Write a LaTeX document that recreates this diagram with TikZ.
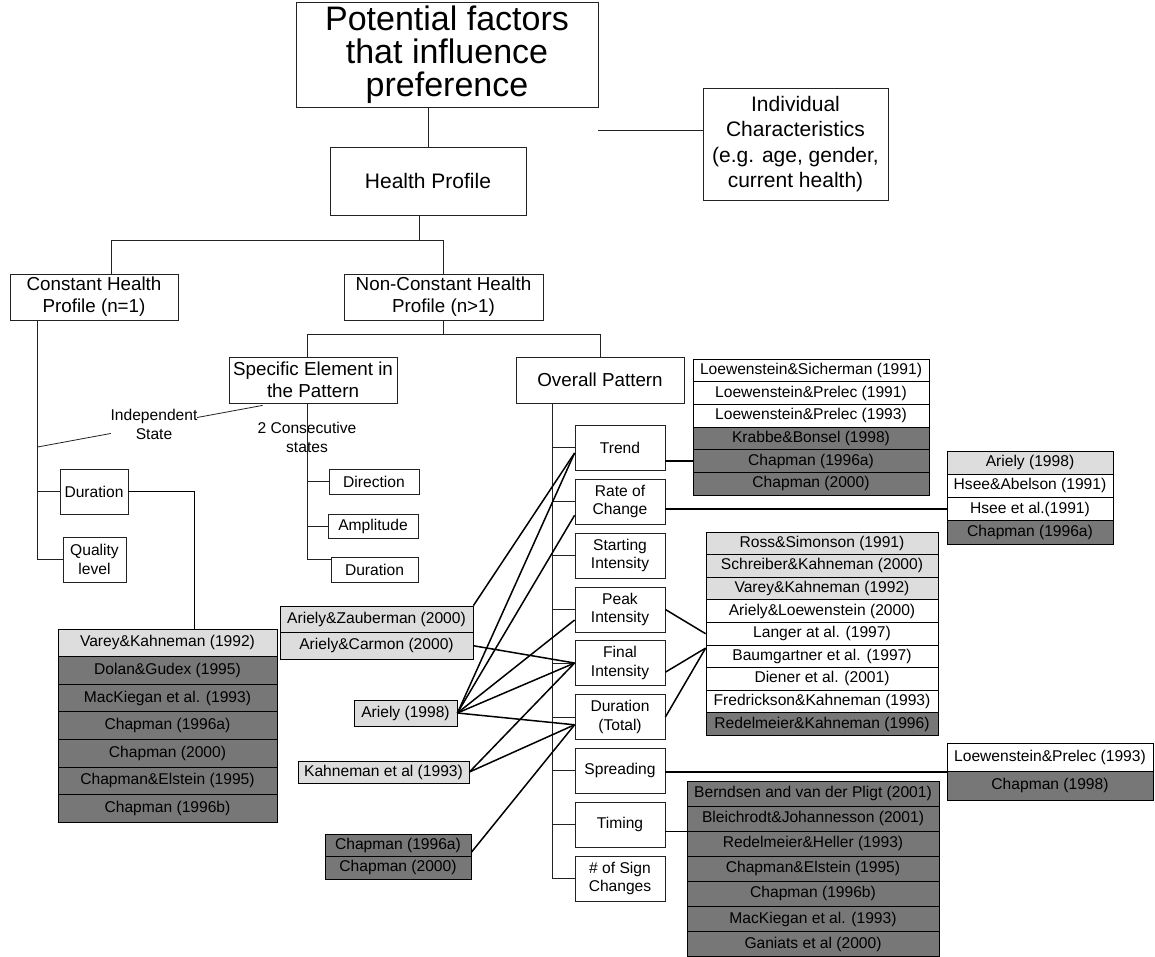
\documentclass[tikz,border=0pt]{standalone}
\usepackage{fontspec}
\setmainfont{Liberation Sans}
\usetikzlibrary{calc}
\definecolor{lightc}{HTML}{DDDDDD}
\definecolor{darkc}{HTML}{777777}
\definecolor{edgec}{HTML}{222222}
\begin{document}
\begin{tikzpicture}[x=1pt,y=-1pt,
  sz/.style 2 args={minimum width=#1pt, minimum height=#2pt},
  box/.style={draw=edgec, fill=white, line width=0.8pt, align=center, inner sep=0pt,
    font=\fontsize{15.6}{18.5}\selectfont},
  midbox/.style={box, font=\fontsize{18.8}{22}\selectfont},
  bigbox/.style={box, font=\fontsize{21}{25.3}\selectfont},
  titlebox/.style={box, font=\fontsize{34}{33}\selectfont},
  crow/.style={draw=black, line width=0.8pt, fill=#1, inner sep=0pt,
    font=\fontsize{15.6}{18}\selectfont},
  tree/.style={draw=edgec, line width=0.8pt},
  link/.style={draw=black, line width=1.5pt},
  lbl/.style={inner sep=0pt, align=center, font=\fontsize{15.6}{19}\selectfont}
]
\useasboundingbox (0,0) rectangle (1155,957);

% ---- top levels ----
\node[titlebox, sz={302}{105}] (title) at (447,54.5) {\raisebox{-3pt}{\parbox{300pt}{\centering Potential factors\\that influence\\preference}}};
\node[bigbox, sz={185}{112}] (indiv) at (795.5,144) {Individual\\Characteristics\\(e.g. age, gender,\\current health)};
\node[bigbox, sz={196}{68}] (health) at (428,181) {Health Profile};
\node[midbox, sz={168}{46}] (const) at (94,297) {Constant Health\\Profile (n=1)};
\node[midbox, sz={199}{46}] (nonc) at (443.5,297) {Non-Constant Health\\Profile (n>1)};
\node[midbox, sz={168}{46}] (spec) at (313,380) {Specific Element in\\the Pattern};
\node[midbox, sz={168}{46}] (overall) at (600,380) {Overall Pattern};

\draw[tree] (title.south -| health.north) -- (health.north);
\draw[tree] (title.south east |- 0,130) -- (indiv.west |- 0,130);
\draw[tree] ($(health.south)+(-9,0)$) -- ++(0,25) coordinate (hb);
\draw[tree] ($(const.north)+(17,0)$) |- (hb) -| (nonc.north);
\draw[tree] (nonc.south) -- ++(0,14) coordinate (nb);
\draw[tree] ($(spec.north)+(-6,0)$) |- (nb) -| (overall.north);

% ---- constant profile branch ----
\node[box, sz={68}{45}] (dl) at (94,491.5) {Duration};
\node[box, sz={63}{45}] (ql) at (94.5,559.5) {Quality\\level};
\coordinate (cs) at ($(const.south west)+(28,0)$);
\draw[tree] (cs) |- (ql.west);
\draw[tree] (dl.west) -- (dl.west -| cs);

% ---- specific element branch ----
\node[box, sz={90}{25}] (sdir) at (374,481.5) {Direction};
\node[box, sz={90}{24}] (samp) at (373,526) {Amplitude};
\node[box, sz={87}{25}] (sdur) at (374.5,569.5) {Duration};
\coordinate (ss) at ($(spec.south)+(-6,0)$);
\node[lbl] (consec) at (307,437.5) {2 Consecutive\\states};
\draw[tree] (ss) |- ($(sdur.north west)!0.12!(sdur.south west)$);
\draw[tree] (sdir.west) -- (sdir.west -| ss);
\draw[tree] (samp.west) -- (samp.west -| ss);
\coordinate (ist) at (cs |- 0,447);
\draw[tree] (ist) -- ($(spec.south west)+(34,2)$);
\node[lbl, fill=white] (indep) at (154,424) {Independent\\State};

% ---- overall pattern branch ----
\node[box, sz={90}{45}] (trend) at (620,447.5) {Trend};
\node[box, sz={90}{45}] (rate) at (620,501.5) {Rate of\\Change};
\node[box, sz={90}{45}] (start) at (620,555.5) {Starting\\Intensity};
\node[box, sz={90}{45}] (peak) at (620,609.5) {Peak\\Intensity};
\node[box, sz={90}{45}] (final) at (620,663) {Final\\Intensity};
\node[box, sz={90}{45}] (dur) at (620,717) {Duration\\(Total)};
\node[box, sz={90}{45}] (spread) at (620,770.5) {Spreading};
\node[box, sz={90}{45}] (timing) at (620,824.5) {Timing};
\node[box, sz={90}{45}] (sign) at (620,878.5) {\# of Sign\\Changes};
\coordinate (os) at ($(overall.south west)+(37,0)$);
\draw[tree] (os) |- (sign.west);
\foreach \n in {trend,rate,start,peak,final,dur,spread,timing}
  \draw[tree] (\n.west) -- (\n.west -| os);

% ---- citation tables ----
\foreach \t/\c [count=\i] in {%
  {Varey\&Kahneman (1992)}/lightc, {Dolan\&Gudex (1995)}/darkc,
  {MacKiegan et al. (1993)}/darkc, {Chapman (1996a)}/darkc,
  {Chapman (2000)}/darkc, {Chapman\&Elstein (1995)}/darkc,
  {Chapman (1996b)}/darkc}
  \node[crow=\c, sz={219}{27.6}] (tl\i) at (167.5,{629+27.6*(\i-0.5)}) {\t};

\foreach \t/\c [count=\i] in {%
  {Loewenstein\&Sicherman (1991)}/white, {Loewenstein\&Prelec (1991)}/white,
  {Loewenstein\&Prelec (1993)}/white, {Krabbe\&Bonsel (1998)}/darkc,
  {Chapman (1996a)}/darkc, {Chapman (2000)}/darkc}
  \node[crow=\c, sz={236}{22.7}] (ta\i) at (811,{359+22.7*(\i-0.5)}) {\t};

\foreach \t/\c [count=\i] in {%
  {Ariely (1998)}/lightc, {Hsee\&Abelson (1991)}/white,
  {Hsee et al.(1991)}/white, {Chapman (1996a)}/darkc}
  \node[crow=\c, sz={166}{23.25}] (tb\i) at (1030,{451+23.25*(\i-0.5)}) {\t};

\foreach \t/\c [count=\i] in {%
  {Ross\&Simonson (1991)}/lightc, {Schreiber\&Kahneman (2000)}/lightc,
  {Varey\&Kahneman (1992)}/lightc, {Ariely\&Loewenstein (2000)}/white,
  {Langer at al. (1997)}/white, {Baumgartner et al. (1997)}/white,
  {Diener et al. (2001)}/white, {Fredrickson\&Kahneman (1993)}/white,
  {Redelmeier\&Kahneman (1996)}/darkc}
  \node[crow=\c, sz={232}{22.6}] (te\i) at (822,{532+22.6*(\i-0.5)}) {\t};

\foreach \t/\c [count=\i] in {%
  {Loewenstein\&Prelec (1993)}/white, {Chapman (1998)}/darkc}
  \node[crow=\c, sz={206}{28.5}] (tc\i) at (1050,{743+28.5*(\i-0.5)}) {\t};

\foreach \t/\c [count=\i] in {%
  {Berndsen and van der Pligt (2001)}/darkc, {Bleichrodt\&Johannesson (2001)}/darkc,
  {Redelmeier\&Heller (1993)}/darkc, {Chapman\&Elstein (1995)}/darkc,
  {Chapman (1996b)}/darkc, {MacKiegan et al. (1993)}/darkc,
  {Ganiats et al (2000)}/darkc}
  \node[crow=\c, sz={252}{25.1}] (td\i) at (813,{781+25.1*(\i-0.5)}) {\t};

\foreach \t/\c [count=\i] in {%
  {Ariely\&Zauberman (2000)}/lightc, {Ariely\&Carmon (2000)}/lightc}
  \node[crow=\c, sz={193}{26.5}] (tz\i) at (376.5,{606+26.5*(\i-0.5)}) {\t};

\node[crow=lightc, sz={103}{26}] (ar) at (405.5,713) {Ariely (1998)};
\node[crow=lightc, sz={171}{22}] (ka) at (383.5,772) {Kahneman et al (1993)};
\foreach \t/\c [count=\i] in {%
  {Chapman (1996a)}/darkc, {Chapman (2000)}/darkc}
  \node[crow=\c, sz={146}{22.5}] (tch\i) at (398,{834+22.5*(\i-0.5)}) {\t};

% ---- links from factors to studies ----
\draw[link] (dl.east) -| ($(tl1.north west)+(137,0)$);
\draw[link] (ta5.west -| trend.east) -- (ta5.west);
\draw[link] (tb3.west -| rate.east) -- (tb3.west);
\draw[link] (tc1.south west -| spread.east) -- (tc1.south west);
\draw[link] (td2.south west -| timing.east) -- (td2.south west);
\draw[link] (peak.east) -- (te5.west);
\draw[link] ($(final.north east)!0.7!(final.south east)$) -- ($(te6.north west)!0.15!(te6.south west)$);
\draw[link] (dur.east) -- ($(te6.north west)!0.15!(te6.south west)$);

\coordinate (trendin) at ($(trend.north west)!0.62!(trend.south west)$);
\coordinate (ratein) at ($(rate.north west)!0.8!(rate.south west)$);
\coordinate (peakin) at ($(peak.north west)!0.73!(peak.south west)$);
\coordinate (durin) at ($(dur.north west)!0.67!(dur.south west)$);
\draw[link] (tz1.north east) -- (trendin);
\draw[link] (tz2.east) -- (final.west);
\draw[link] (ar.east) -- (trendin);
\draw[link] (ar.east) -- (ratein);
\draw[link] (ar.east) -- (peakin);
\draw[link] (ar.east) -- (final.west);
\draw[link] (ar.east) -- (durin);
\draw[link] (ka.east) -- (final.west);
\draw[link] (ka.east) -- (durin);
\draw[link] ($(tch1.north east)!0.8!(tch1.south east)$) -- (durin);
\end{tikzpicture}
\end{document}
